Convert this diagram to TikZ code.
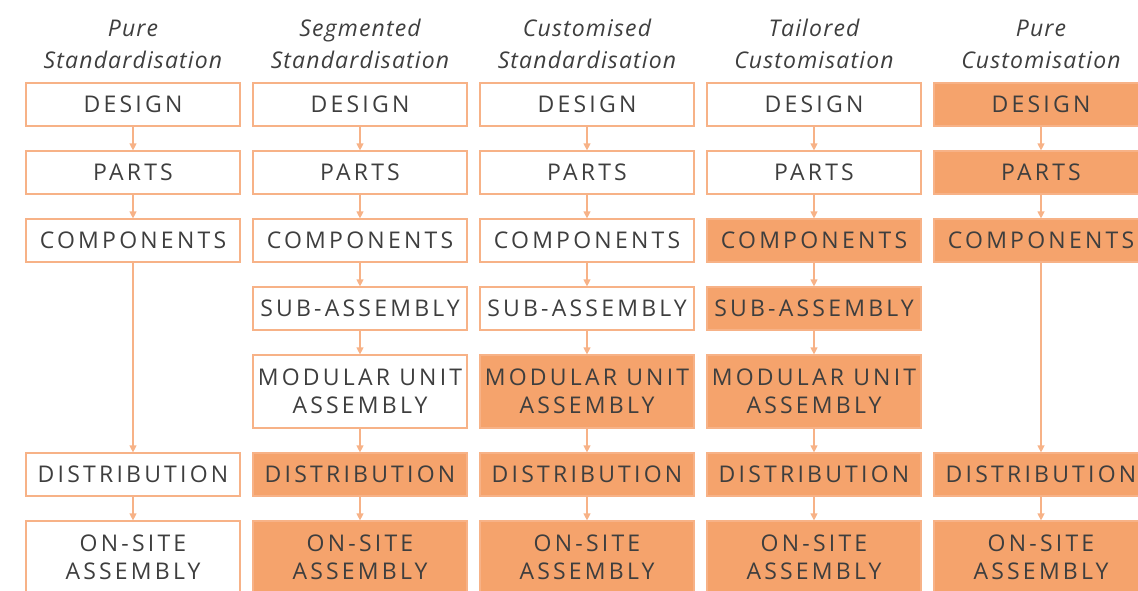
\documentclass[tikz,border=0pt]{standalone}
\usepackage{fontspec}
\setmainfont{Open Sans}
\newfontfamily\stagefont[LetterSpace=14]{Open Sans}
\newfontfamily\headfont[LetterSpace=5]{Open Sans}
\usetikzlibrary{arrows.meta, positioning}

\definecolor{stageline}{RGB}{247,178,135}
\definecolor{stagefill}{RGB}{245,163,108}
\definecolor{stagetext}{RGB}{62,62,62}

\begin{document}
\begin{tikzpicture}[
    x=1pt, y=-1pt,
    ->,
    >={Triangle[length=7pt, width=7pt]},
    node distance=68pt,
    on grid,
    every edge/.style={draw=stageline, line width=1.2pt},
    stage/.style={draw=stageline, line width=1.2pt, minimum width=214pt,
        minimum height=43pt, inner sep=0pt, align=center, text=stagetext,
        font=\stagefont\fontsize{23}{28}\selectfont},
    twoline/.style={minimum height=73pt},
    custom/.style={fill=stagefill},
    heading/.style={align=center, anchor=base, text=stagetext,
        font=\headfont\itshape\fontsize{23}{32}\selectfont},
]
    \useasboundingbox (0,0) rectangle (1138,590);

    % column headings (base = last line)
    \node[heading] (a-head) at (133,68)  {Pure\\Standardisation};
    \node[heading] (b-head) at (360,68)  {Segmented\\Standardisation};
    \node[heading] (c-head) at (587,68)  {Customised\\Standardisation};
    \node[heading] (d-head) at (814,68)  {Tailored\\Customisation};
    \node[heading] (e-head) at (1041,68) {Pure\\Customisation};

    % pure standardisation
    \node[stage]                          (a-des) at (133,104.5) {DESIGN};
    \node[stage, below=of a-des]          (a-par) {PARTS};
    \node[stage, below=of a-par]          (a-com) {COMPONENTS};
    \node[stage, below=234pt of a-com]    (a-dis) {DISTRIBUTION};
    \node[stage, twoline, below=83pt of a-dis] (a-ons) {ON-SITE\\ASSEMBLY};

    % segmented standardisation
    \node[stage]                          (b-des) at (360,104.5) {DESIGN};
    \node[stage, below=of b-des]          (b-par) {PARTS};
    \node[stage, below=of b-par]          (b-com) {COMPONENTS};
    \node[stage, below=of b-com]          (b-sub) {SUB-ASSEMBLY};
    \node[stage, twoline, below=83pt of b-sub] (b-mod) {MODULAR UNIT\\ASSEMBLY};
    \node[stage, custom, below=83pt of b-mod]  (b-dis) {DISTRIBUTION};
    \node[stage, custom, twoline, below=83pt of b-dis] (b-ons) {ON-SITE\\ASSEMBLY};

    % customised standardisation
    \node[stage]                          (c-des) at (587,104.5) {DESIGN};
    \node[stage, below=of c-des]          (c-par) {PARTS};
    \node[stage, below=of c-par]          (c-com) {COMPONENTS};
    \node[stage, below=of c-com]          (c-sub) {SUB-ASSEMBLY};
    \node[stage, custom, twoline, below=83pt of c-sub] (c-mod) {MODULAR UNIT\\ASSEMBLY};
    \node[stage, custom, below=83pt of c-mod]  (c-dis) {DISTRIBUTION};
    \node[stage, custom, twoline, below=83pt of c-dis] (c-ons) {ON-SITE\\ASSEMBLY};

    % tailored customisation
    \node[stage]                          (d-des) at (814,104.5) {DESIGN};
    \node[stage, below=of d-des]          (d-par) {PARTS};
    \node[stage, custom, below=of d-par]  (d-com) {COMPONENTS};
    \node[stage, custom, below=of d-com]  (d-sub) {SUB-ASSEMBLY};
    \node[stage, custom, twoline, below=83pt of d-sub] (d-mod) {MODULAR UNIT\\ASSEMBLY};
    \node[stage, custom, below=83pt of d-mod]  (d-dis) {DISTRIBUTION};
    \node[stage, custom, twoline, below=83pt of d-dis] (d-ons) {ON-SITE\\ASSEMBLY};

    % pure customisation
    \node[stage, custom]                  (e-des) at (1041,104.5) {DESIGN};
    \node[stage, custom, below=of e-des]  (e-par) {PARTS};
    \node[stage, custom, below=of e-par]  (e-com) {COMPONENTS};
    \node[stage, custom, below=234pt of e-com] (e-dis) {DISTRIBUTION};
    \node[stage, custom, twoline, below=83pt of e-dis] (e-ons) {ON-SITE\\ASSEMBLY};

    \path
        (a-des) edge (a-par)  (a-par) edge (a-com)  (a-com) edge (a-dis)  (a-dis) edge (a-ons)
        (b-des) edge (b-par)  (b-par) edge (b-com)  (b-com) edge (b-sub)  (b-sub) edge (b-mod)
        (b-mod) edge (b-dis)  (b-dis) edge (b-ons)
        (c-des) edge (c-par)  (c-par) edge (c-com)  (c-com) edge (c-sub)  (c-sub) edge (c-mod)
        (c-mod) edge (c-dis)  (c-dis) edge (c-ons)
        (d-des) edge (d-par)  (d-par) edge (d-com)  (d-com) edge (d-sub)  (d-sub) edge (d-mod)
        (d-mod) edge (d-dis)  (d-dis) edge (d-ons)
        (e-des) edge (e-par)  (e-par) edge (e-com)  (e-com) edge (e-dis)  (e-dis) edge (e-ons)
    ;
\end{tikzpicture}
\end{document}
